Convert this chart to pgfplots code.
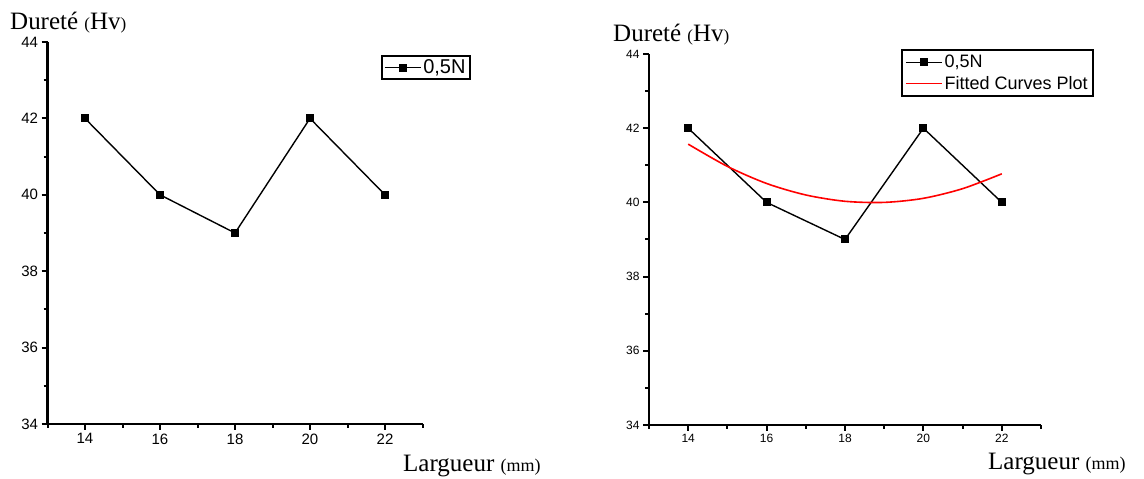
\documentclass[border=0pt]{standalone}
\usepackage{fontspec}
\setmainfont{Liberation Sans}
\newfontfamily\timesf{Liberation Serif}
\usepackage{pgfplots}
\usepackage{pgfplotstable}
\pgfplotsset{compat=1.18}

% measured hardness
\pgfplotstableread{
x y
14 42
16 40
18 39
20 42
22 40
}\hardness

% fitted curve
\pgfplotstableread{
x y
14 41.57
15 40.97
16 40.51
17 40.20
18 40.03
19 40.00
20 40.11
21 40.37
22 40.77
}\fitted

\pgfplotsset{
  hv/.style={
    scale only axis,
    axis x line=bottom, axis y line=left,
    every outer x axis line/.append style={-, line width=2.6pt},
    every outer y axis line/.append style={-, line width=2.6pt},
    xmin=13, xmax=23, ymin=34, ymax=44,
    xtick={14,16,...,22}, ytick={34,36,...,44},
    minor xtick={13,15,...,23}, minor ytick={35,37,...,43},
    tick align=outside,
    major tick length=6pt, minor tick length=4pt,
    major tick style={black, line width=2pt},
    minor tick style={black, line width=2pt},
    /pgf/number format/assume math mode=true,
    clip=false,
    legend cell align=left,
    legend image code/.code={
      \draw[mark repeat=2, mark phase=2, #1] plot coordinates {(0pt,0pt) (18pt,0pt) (36pt,0pt)};
    },
  },
  pts/.style={black, line width=1.4pt, mark=square*, mark size=3.3pt, mark options={solid}},
}

\begin{document}
\begin{tikzpicture}
\useasboundingbox (0pt,0pt) rectangle (1144pt,479pt);

\begin{axis}[hv,
    at={(47.5pt,55pt)}, anchor=south west,
    width=375pt, height=382pt,
    tick label style={font=\fontsize{15}{15}\selectfont},
    legend style={at={(0.889,0.966)}, anchor=north west, draw=black, line width=2pt,
      font=\fontsize{20}{20}\selectfont, inner sep=2pt},
]
\addplot[pts] table[x=x,y=y] {\hardness};
\addlegendentry{0,5N}
\end{axis}

\begin{axis}[hv,
    at={(649pt,54pt)}, anchor=south west,
    width=392pt, height=371pt,
    tick label style={font=\fontsize{12}{12}\selectfont},
    legend style={at={(0.643,1.013)}, anchor=north west, draw=black, line width=2pt,
      font=\fontsize{18}{18}\selectfont, inner sep=3pt, row sep=3pt},
]
\addplot[pts] table[x=x,y=y] {\hardness};
\addlegendentry{0,5N}
\addplot[red, line width=1.6pt, smooth, no marks] table[x=x,y=y] {\fitted};
\addlegendentry{Fitted Curves Plot}
\end{axis}

\node[anchor=base west, inner sep=0pt, font=\timesf\fontsize{25}{25}\selectfont] at (10pt,449pt)
  {Dureté {\fontsize{17}{17}\selectfont(}Hv{\fontsize{17}{17}\selectfont)}};
\node[anchor=base west, inner sep=0pt, font=\timesf\fontsize{25}{25}\selectfont] at (613pt,437pt)
  {Dureté {\fontsize{17}{17}\selectfont(}Hv{\fontsize{17}{17}\selectfont)}};
\node[anchor=base west, inner sep=0pt, font=\timesf\fontsize{25}{25}\selectfont] at (403pt,7pt)
  {Largueur {\fontsize{18}{18}\selectfont(mm)}};
\node[anchor=base west, inner sep=0pt, font=\timesf\fontsize{25}{25}\selectfont] at (988pt,9pt)
  {Largueur {\fontsize{18}{18}\selectfont(mm)}};
\end{tikzpicture}
\end{document}
